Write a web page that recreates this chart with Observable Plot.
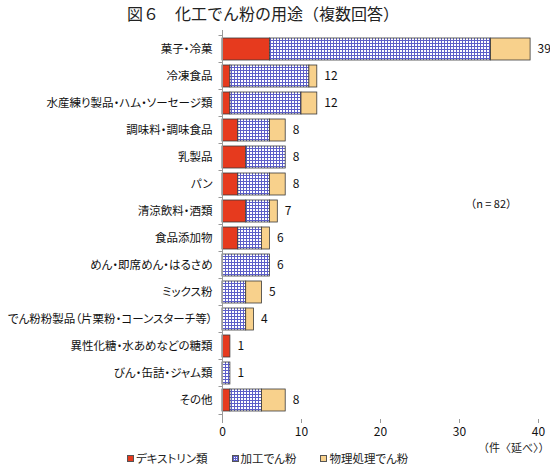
<!DOCTYPE html>
<html>
<head>
<meta charset="utf-8">
<script src="https://cdn.jsdelivr.net/npm/d3@7"></script>
<script src="https://cdn.jsdelivr.net/npm/@observablehq/plot@0.6"></script>
<style>
  body { margin: 0; background: #fff; font-family: "Noto Sans CJK JP", "Noto Sans", sans-serif; }
  #wrap { position: relative; width: 550px; height: 465px; overflow: hidden; }
  #title { position: absolute; left: 0; top: 3px; width: 526px; text-align: center; font-size: 16px; line-height: 20px; color: #222; }
  #chart { position: absolute; left: 0; top: 28px; }
  #unit { position: absolute; left: 478px; top: 441px; font-size: 11px; line-height: 13px; color: #222; white-space: nowrap; }
  #legend { position: absolute; left: 127px; top: 451px; display: flex; font-size: 11.5px; line-height: 14px; color: #222; white-space: nowrap; font-feature-settings: "palt"; }
  #legend span.item { display: flex; align-items: center; margin-right: 24px; }
  #legend span.sw { width: 7px; height: 7px; border: 1px solid #555; margin-right: 2px; box-sizing: border-box; }
  #chart g[aria-label="y-axis tick label"] { font-feature-settings: "palt"; }
</style>
</head>
<body>
<div id="wrap">
  <div id="title">図６　化工でん粉の用途（複数回答）</div>
  <div id="chart"></div>
  <div id="unit">（件〈延べ〉）</div>
  <div id="legend"></div>
</div>
<script>
const categories = [
  "菓子・冷菓", "冷凍食品", "水産練り製品・ハム・ソーセージ類", "調味料・調味食品",
  "乳製品", "パン", "清涼飲料・酒類", "食品添加物", "めん・即席めん・はるさめ",
  "ミックス粉", "でん粉粉製品（片栗粉・コーンスターチ等）", "異性化糖・水あめなどの糖類",
  "びん・缶詰・ジャム類", "その他"
];
const seriesNames = ["デキストリン類", "加工でん粉", "物理処理でん粉"];
const dextrin  = [6, 1, 1, 2, 3, 2, 3, 2, 0, 0, 0, 1, 0, 1];
const modified = [28, 10, 9, 4, 5, 4, 3, 3, 6, 3, 3, 0, 1, 4];
const physical = [5, 1, 2, 2, 0, 2, 1, 1, 0, 2, 1, 0, 0, 3];
const totals   = [39, 12, 12, 8, 8, 8, 7, 6, 6, 5, 4, 1, 1, 8];
const xTicks = [0, 10, 20, 30, 40];
const noteText = "（n = 82）";
const noteX = 34;
const noteCat = "清涼飲料・酒類";

const colors = ["#e63a1e", "url(#gridpat)", "#f8d18c"];
const seriesValues = [dextrin, modified, physical];

const rows = [];
categories.forEach((c, i) => {
  seriesNames.forEach((s, j) => {
    const v = seriesValues[j][i];
    if (v > 0) rows.push({cat: c, series: s, value: v});
  });
});
const totalRows = categories.map((c, i) => ({cat: c, total: totals[i]}));
const noteRows = [{x: noteX, cat: noteCat, text: noteText}];

const boundaryTicks = (index, scales, values, dims) => {
  try {
    const y = scales.y;
    const step = y.step ? y.step() : y.bandwidth() / 0.8;
    const pi = y.paddingInner ? y.paddingInner() : 0.2;
    const g = d3.create("svg:g").attr("stroke", "#999").attr("stroke-width", 1);
    const x0 = dims.marginLeft + 0.5;
    const ys = categories.map(c => y(c) - pi * step / 2);
    ys.push(y(categories[categories.length - 1]) + y.bandwidth() + pi * step / 2);
    for (const yy of ys) {
      g.append("line").attr("x1", x0 - 4).attr("x2", x0).attr("y1", Math.round(yy) + 0.5).attr("y2", Math.round(yy) + 0.5);
    }
    return g.node();
  } catch (e) { return null; }
};

const plot = Plot.plot({
  width: 550,
  height: 437,
  marginLeft: 222,
  marginRight: 12,
  marginTop: 2,
  marginBottom: 46,
  style: {fontFamily: "'Noto Sans CJK JP', sans-serif", background: "#fff"},
  x: {domain: [0, 40]},
  y: {domain: categories, paddingInner: 0.2, paddingOuter: 0.1},
  color: {domain: seriesNames, range: colors},
  marks: [
    Plot.barX(rows, Plot.stackX({x: "value", y: "cat", fill: "series", stroke: "#3a3a3a", strokeWidth: 0.8, order: null})),
    Plot.ruleX([0], {stroke: "#999"}),
    Plot.axisX({ticks: xTicks, tickSize: 4, line: true, stroke: "#999", fill: "#111", fontSize: 12, tickPadding: 4, label: null}),
    Plot.axisY({tickSize: 0, tickPadding: 10, fontSize: 11.5, fill: "#111", label: null}),
    boundaryTicks,
    Plot.text(totalRows, {x: "total", y: "cat", text: "total", dx: 7, textAnchor: "start", fontSize: 12, fill: "#111"}),
    Plot.text(noteRows, {x: "x", y: "cat", dy: -7, text: "text", fontSize: 11, fill: "#111"})
  ]
});

const defs = d3.create("svg:defs");
const pat = defs.append("pattern").attr("id", "gridpat").attr("patternUnits", "userSpaceOnUse").attr("width", 3).attr("height", 3);
pat.append("rect").attr("width", 3).attr("height", 3).attr("fill", "#ffffff");
pat.append("rect").attr("width", 3).attr("height", 1).attr("fill", "#5d5fc8");
pat.append("rect").attr("width", 1).attr("height", 3).attr("fill", "#5d5fc8");
plot.insertBefore(defs.node(), plot.firstChild);

document.getElementById("chart").appendChild(plot);

const legend = d3.select("#legend");
seriesNames.forEach((s, i) => {
  const item = legend.append("span").attr("class", "item");
  const sw = item.append("span").attr("class", "sw");
  if (i === 1) {
    sw.style("background", "repeating-linear-gradient(0deg,#5d5fc8 0 1px,transparent 1px 2px),repeating-linear-gradient(90deg,#5d5fc8 0 1px,#fff 1px 2px)");
  } else {
    sw.style("background", colors[i]);
  }
  item.append("span").text(s);
});
</script>
</body>
</html>
